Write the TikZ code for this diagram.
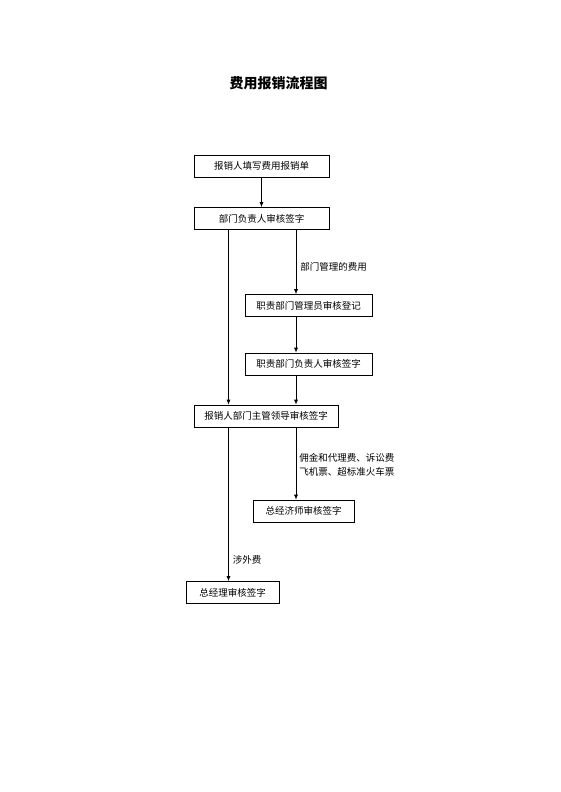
\documentclass[tikz,border=0pt]{standalone}
\usepackage{fontspec}
\setmainfont{Noto Sans CJK SC}
\usetikzlibrary{arrows.meta}
\begin{document}
\begin{tikzpicture}[x=1pt,y=-1pt,
squarednode/.style={rectangle, draw=black, line width=0.7pt, minimum height=22pt, inner xsep=0pt, font=\fontsize{9.5}{11}\selectfont},
to/.style={-{Latex[length=5pt,width=4pt]},line width=0.7pt},
lbl/.style={font=\fontsize{9.5}{14}\selectfont, anchor=west, inner sep=1pt, align=left},
]
\useasboundingbox (0,0) rectangle (560,792);
%title
\node[font=\fontsize{14}{16}\selectfont\bfseries](title) at (278.5,83.5) {费用报销流程图};
%nodes
\node[squarednode, minimum width=135pt](b1) at (261.5,166) {报销人填写费用报销单};
\node[squarednode, minimum width=135pt](b2) at (261.5,218.5) {部门负责人审核签字};
\node[squarednode, minimum width=127pt](b3) at (308.5,305.5) {职责部门管理员审核登记};
\node[squarednode, minimum width=127pt](b4) at (308.5,364) {职责部门负责人审核签字};
\node[squarednode, minimum width=144pt](b5) at (266,416) {报销人部门主管领导审核签字};
\node[squarednode, minimum width=101pt](b6) at (303.5,511) {总经济师审核签字};
\node[squarednode, minimum width=93pt](b7) at (232.5,592.5) {总经理审核签字};
\coordinate (xl) at (228.5,0);
\coordinate (xr) at (296,0);
%connections
\draw[to] (b1.south -| b2) -- (b2);
\draw[to] (b2.south -| xl) -- (b5.north -| xl);
\draw[to] (b2.south -| xr) -- node[lbl, pos=0.57, xshift=3pt]{部门管理的费用} (b3.north -| xr);
\draw[to] (b3.south -| xr) -- (b4.north -| xr);
\draw[to] (b4.south -| xr) -- (b5.north -| xr);
\draw[to] (b5.south -| xr) -- node[lbl, pos=0.52, xshift=2pt]{佣金和代理费、诉讼费\\飞机票、超标准火车票} (b6.north -| xr);
\draw[to] (b5.south -| xl) -- node[lbl, pos=0.86, xshift=3pt]{涉外费} (b7.north -| xl);
\end{tikzpicture}
\end{document}
